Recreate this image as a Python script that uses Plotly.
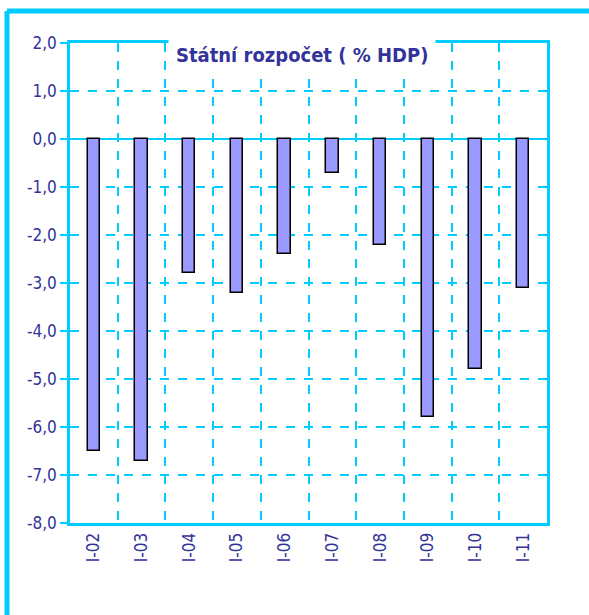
import plotly.graph_objects as go

categories = ["I-02", "I-03", "I-04", "I-05", "I-06", "I-07", "I-08", "I-09", "I-10", "I-11"]
values = [-6.5, -6.7, -2.8, -3.2, -2.4, -0.7, -2.2, -5.8, -4.8, -3.1]
y_ticks = [2, 1, 0, -1, -2, -3, -4, -5, -6, -7, -8]
y_tick_labels = ["2,0", "1,0", "0,0", "-1,0", "-2,0", "-3,0", "-4,0", "-5,0", "-6,0", "-7,0", "-8,0"]
title_text = "Státní rozpočet ( % HDP)"

CYAN = "#00CCFF"
TXT = "#333399"
FONT = "DejaVu Sans Condensed, Liberation Sans Narrow, Arial Narrow, sans-serif"

fig = go.Figure()
fig.add_trace(go.Bar(
    x=categories, y=values,
    width=0.26,
    marker=dict(color="#9999FF", line=dict(color="black", width=1.5)),
    showlegend=False,
))

W, H = 589, 615
L, R, T, B = 70, 42, 43, 92
pw, ph = W - L - R, H - T - B

def px_x(x):
    return (x - L) / pw

def px_y(y):
    return (H - B - y) / ph

fig.update_layout(
    width=W, height=H,
    margin=dict(l=L, r=R, t=T, b=B, pad=0),
    paper_bgcolor="white", plot_bgcolor="white",
    bargap=0,
    xaxis=dict(
        type="category",
        tickson="boundaries",
        showgrid=True, gridcolor=CYAN, griddash="dash", gridwidth=1.5,
        showline=True, linecolor=CYAN, linewidth=3, mirror=True,
        ticks="", tickangle=-90,
        tickfont=dict(family=FONT, size=17, color=TXT),
        zeroline=False,
    ),
    yaxis=dict(
        range=[-8, 2],
        tickvals=y_ticks, ticktext=y_tick_labels,
        showgrid=True, gridcolor=CYAN, griddash="dash", gridwidth=1.5,
        showline=True, linecolor=CYAN, linewidth=2.5, mirror=True,
        ticks="outside", ticklen=7, tickcolor=CYAN, tickwidth=2,
        tickfont=dict(family=FONT, size=17, color=TXT),
        zeroline=True, zerolinecolor=CYAN, zerolinewidth=2,
    ),
    shapes=[
        dict(type="line", xref="paper", yref="paper",
             x0=px_x(7), x1=px_x(600), y0=px_y(11), y1=px_y(11),
             line=dict(color=CYAN, width=5)),
        dict(type="line", xref="paper", yref="paper",
             x0=px_x(7), x1=px_x(7), y0=px_y(11), y1=px_y(630),
             line=dict(color=CYAN, width=5)),
    ],
    annotations=[
        dict(text="<b>" + title_text + "</b>", xref="paper", yref="paper",
             x=px_x(302), y=px_y(55), xanchor="center", yanchor="middle",
             showarrow=False, bgcolor="white", borderpad=7,
             font=dict(family=FONT, size=20, color=TXT)),
    ],
)

fig.write_html("out.html", config={"displayModeBar": False},
               post_script="document.body.style.margin='0px';")
